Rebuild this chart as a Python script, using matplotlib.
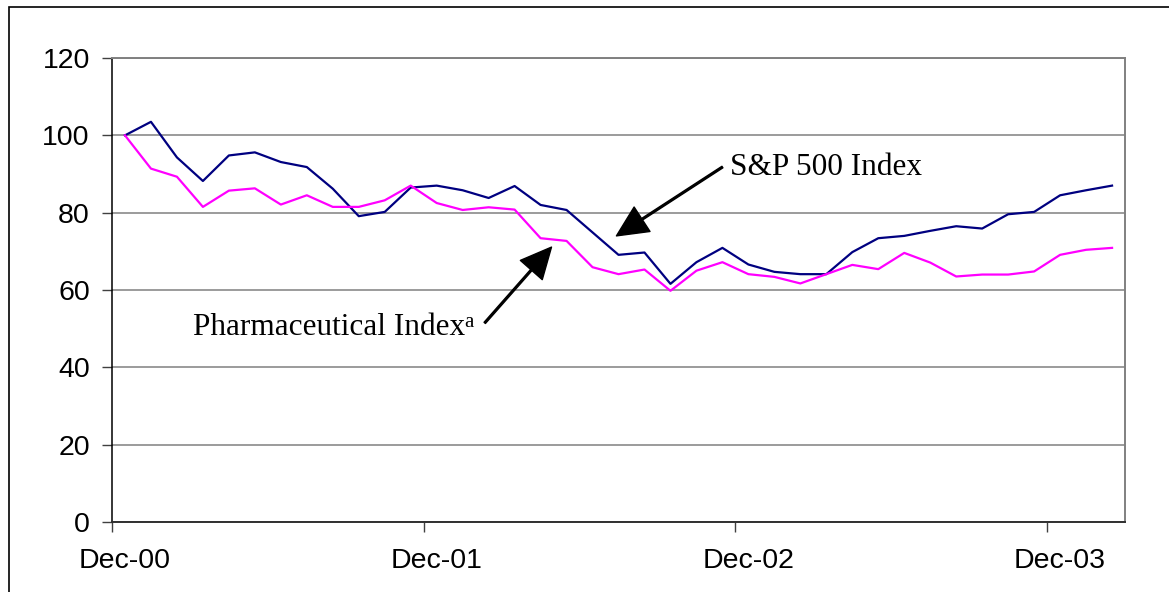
import pandas as pd
import matplotlib.pyplot as plt
from matplotlib.patches import Rectangle

# Monthly index levels, Dec-00 = 100
months = pd.date_range('2000-12-01', periods=39, freq='MS')
sp500 = [100, 103.5, 94.3, 88.2, 94.8, 95.6, 93.1, 91.8, 86.2, 79.1,
         80.2, 86.5, 87.0, 85.8, 83.8, 86.9, 82.0, 80.7, 74.9, 69.1,
         69.7, 61.6, 67.2, 70.9, 66.6, 64.7, 64.1, 64.1, 69.8, 73.4,
         74.0, 75.3, 76.5, 75.9, 79.6, 80.2, 84.5, 85.8, 87.0]
pharma = [100, 91.4, 89.3, 81.5, 85.7, 86.3, 82.1, 84.5, 81.5, 81.5,
          83.2, 87.0, 82.5, 80.7, 81.4, 80.8, 73.4, 72.7, 65.9, 64.1,
          65.3, 59.8, 65.0, 67.2, 64.1, 63.4, 61.7, 64.1, 66.5, 65.4,
          69.6, 67.1, 63.5, 64.0, 64.0, 64.8, 69.1, 70.4, 70.9]

sans = 'Liberation Sans'
serif = 'Liberation Serif'

fig = plt.figure(figsize=(11.69, 5.92), dpi=100)
ax = fig.add_axes([0.0958, 0.1182, 0.8666, 0.7838])

x = list(range(len(months)))
ax.plot(x, sp500, color='#000080', lw=1.6, zorder=3)
ax.plot(x, pharma, color='#FF00FF', lw=1.6, zorder=3)

ax.set_xlim(-0.5, len(months) - 0.5)
ax.set_ylim(0, 120)

# y axis: gridlines every 20
ax.set_yticks(range(0, 121, 20))
ax.yaxis.grid(True, color='#808080', lw=1.1)
ax.set_axisbelow(True)
ax.tick_params(axis='y', length=7, width=1, color='#404040', pad=9,
               labelsize=20.5)

# x axis: ticks between categories, labels every December
dec_idx = [i for i, m in enumerate(months) if m.month == 12]
ax.set_xticks([i - 0.5 for i in dec_idx])
ax.set_xticklabels([])
ax.set_xticks(dec_idx, minor=True)
ax.set_xticklabels([months[i].strftime('%b-%y') for i in dec_idx], minor=True)
ax.tick_params(axis='x', which='major', length=7, width=1, color='#404040')
ax.tick_params(axis='x', which='minor', length=0, pad=19, labelsize=20.5)

for lab in ax.get_xticklabels(minor=True) + ax.get_yticklabels():
    lab.set_fontfamily(sans)

ax.spines['left'].set_color('black')
ax.spines['left'].set_linewidth(1.1)
ax.spines['bottom'].set_color('#303030')
ax.spines['bottom'].set_linewidth(1.4)
ax.spines['right'].set_color('#808080')
ax.spines['right'].set_linewidth(1.4)
ax.spines['top'].set_color('#808080')
ax.spines['top'].set_linewidth(1.4)

# callout labels
arrow = dict(facecolor='black', edgecolor='black', width=1.3,
             headwidth=21, headlength=22, shrink=0)
ax.annotate('', xy=(18.92, 74.0), xytext=(23.0, 91.8), arrowprops=arrow)
ax.text(23.3, 91.7, 'S&P 500 Index', fontsize=22.5, fontfamily=serif,
        va='center', ha='left')

ax.annotate('', xy=(16.42, 71.1), xytext=(13.85, 51.5), arrowprops=arrow)
ph = ax.text(13.08, 50.2, 'Pharmaceutical Index', fontsize=22.5,
             fontfamily=serif, va='center', ha='right')
ax.annotate('a', xy=(1.0, 0.7), xycoords=ph, fontsize=15, fontfamily=serif,
            va='center', ha='left')

# outer frame
fig.patches.append(Rectangle((9 / 1169, -0.1), 1.2, 1.1 - 7 / 592,
                             transform=fig.transFigure, fill=False,
                             edgecolor='black', lw=1.2))

fig.savefig('out.png', dpi=100)
